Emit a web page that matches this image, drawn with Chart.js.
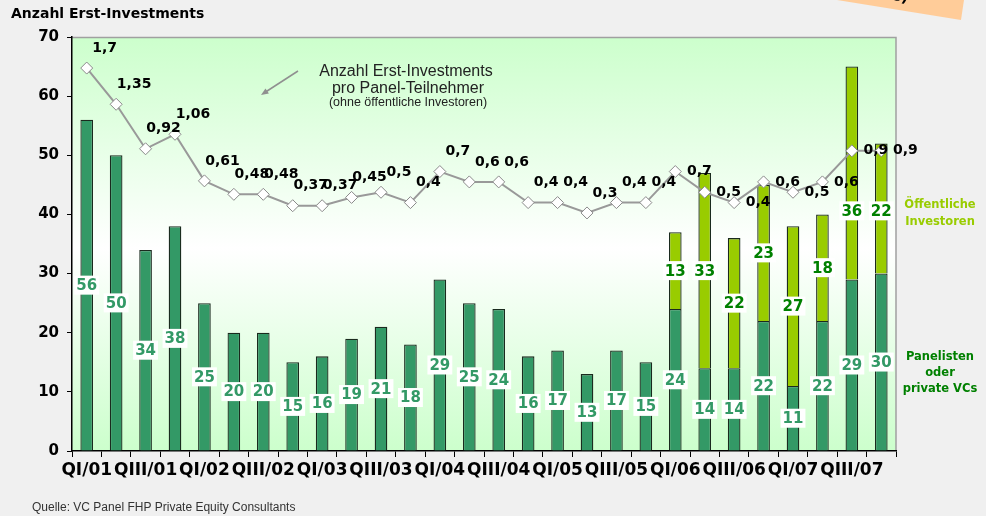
<!DOCTYPE html>
<html>
<head>
<meta charset="utf-8">
<script src="https://cdn.jsdelivr.net/npm/chart.js@4.4.1/dist/chart.umd.min.js"></script>
<style>
  html, body { margin: 0; padding: 0; background: #f0f0f0; }
  #wrap { width: 986px; height: 516px; }
</style>
</head>
<body>
<div id="wrap"><canvas id="c" width="986" height="516"></canvas></div>
<script>
// ---- data ----
const categories = [
  'QI/01','QII/01','QIII/01','QIV/01',
  'QI/02','QII/02','QIII/02','QIV/02',
  'QI/03','QII/03','QIII/03','QIV/03',
  'QI/04','QII/04','QIII/04','QIV/04',
  'QI/05','QII/05','QIII/05','QIV/05',
  'QI/06','QII/06','QIII/06','QIV/06',
  'QI/07','QII/07','QIII/07','QIV/07'
];
const panelisten = [56,50,34,38,25,20,20,15,16,19,21,18,29,25,24,16,17,13,17,15,24,14,14,22,11,22,29,30];
const oeffentliche = [null,null,null,null,null,null,null,null,null,null,null,null,null,null,null,null,null,null,null,null,13,33,22,23,27,18,36,22];
const investmentsProTeilnehmer = [1.7,1.35,0.92,1.06,0.61,0.48,0.48,0.37,0.37,0.45,0.5,0.4,0.7,0.6,0.6,0.4,0.4,0.3,0.4,0.4,0.7,0.5,0.4,0.6,0.5,0.6,0.9,0.9];
const yTickValues = [0,10,20,30,40,50,60,70];

// ---- style ----
const FONT = "'DejaVu Sans', Verdana, sans-serif";
const DARK = '#339966';
const LIGHT = '#99cc00';

const decor = {
  id: 'decor',
  beforeDraw(chart) {
    const ctx = chart.ctx, a = chart.chartArea;
    ctx.save();
    ctx.fillStyle = '#f0f0f0';
    ctx.fillRect(0, 0, chart.width, chart.height);
    // orange note corner
    ctx.fillStyle = '#ffcc99';
    ctx.beginPath();
    ctx.moveTo(837, 0); ctx.lineTo(964, 0); ctx.lineTo(961, 20); ctx.closePath();
    ctx.fill();
    ctx.save();
    ctx.translate(900, 0);
    ctx.rotate(0.16);
    ctx.fillStyle = '#000';
    ctx.font = 'bold 15px ' + FONT;
    ctx.textAlign = 'center';
    ctx.textBaseline = 'alphabetic';
    ctx.fillText('s)', 0, 1);
    ctx.restore();
    // plot background gradient
    const g = ctx.createLinearGradient(0, a.top, 0, a.bottom);
    g.addColorStop(0, '#ccffcc');
    g.addColorStop(0.51, '#ffffff');
    g.addColorStop(1, '#ccffcc');
    ctx.fillStyle = g;
    ctx.fillRect(a.left, a.top, a.right - a.left, a.bottom - a.top);
    ctx.strokeStyle = '#a0a0a0';
    ctx.lineWidth = 1.5;
    ctx.beginPath();
    ctx.moveTo(a.left, a.top + 0.5); ctx.lineTo(a.right, a.top + 0.5); ctx.lineTo(a.right, a.bottom);
    ctx.stroke();
    // title
    ctx.fillStyle = '#000';
    ctx.font = 'bold 14px ' + FONT;
    ctx.textAlign = 'left';
    ctx.textBaseline = 'middle';
    ctx.fillText('Anzahl Erst-Investments', 11, 14);
    // footer
    ctx.fillStyle = '#333';
    ctx.font = "12px 'Liberation Sans', Arial, sans-serif";
    ctx.fillText('Quelle: VC Panel FHP Private Equity Consultants', 32, 508);
    // legend texts
    ctx.textAlign = 'center';
    ctx.font = 'bold 11.5px ' + FONT;
    ctx.fillStyle = LIGHT;
    ctx.fillText('Öffentliche', 940, 205);
    ctx.fillText('Investoren', 940, 222);
    ctx.fillStyle = '#008000';
    ctx.fillText('Panelisten', 940, 357);
    ctx.fillText('oder', 940, 373);
    ctx.fillText('private VCs', 940, 389);
    ctx.restore();
  },
  afterDatasetsDraw(chart) {
    const ctx = chart.ctx;
    ctx.save();
    // annotation
    ctx.fillStyle = '#222';
    ctx.textAlign = 'center';
    ctx.textBaseline = 'middle';
    ctx.font = "16px 'Liberation Sans', Arial, sans-serif";
    ctx.fillText('Anzahl Erst-Investments', 406, 72);
    ctx.fillText('pro Panel-Teilnehmer', 408, 89);
    ctx.font = "12.5px 'Liberation Sans', Arial, sans-serif";
    ctx.fillText('(ohne öffentliche Investoren)', 408, 103);
    // arrow
    ctx.strokeStyle = '#909090';
    ctx.fillStyle = '#909090';
    ctx.lineWidth = 1.5;
    ctx.beginPath(); ctx.moveTo(298, 71); ctx.lineTo(264, 93); ctx.stroke();
    const ang = Math.atan2(95 - 71, 261 - 298);
    ctx.beginPath();
    ctx.moveTo(261, 95);
    ctx.lineTo(261 - 8 * Math.cos(ang - 0.4), 95 - 8 * Math.sin(ang - 0.4));
    ctx.lineTo(261 - 8 * Math.cos(ang + 0.4), 95 - 8 * Math.sin(ang + 0.4));
    ctx.closePath(); ctx.fill();

    const lm = chart.getDatasetMeta(2);
    // bar labels
    ctx.font = 'bold 15px ' + FONT;
    const barLabel = (dsIndex, values, color, avoidLine) => {
      const meta = chart.getDatasetMeta(dsIndex);
      meta.data.forEach((el, i) => {
        const v = values[i];
        if (v === null || v === undefined) return;
        let cy = (el.y + el.base) / 2;
        if (avoidLine) cy = Math.max(cy, lm.data[i].y + 60);
        const txt = String(v);
        const w = ctx.measureText(txt).width + 4;
        ctx.fillStyle = '#ffffff';
        ctx.fillRect(el.x - w / 2, cy - 9.5, w, 19);
        ctx.fillStyle = color;
        ctx.fillText(txt, el.x, cy + 1);
      });
    };
    barLabel(0, panelisten, DARK, false);
    barLabel(1, oeffentliche, '#008000', true);

    // line labels
    ctx.font = 'bold 14px ' + FONT;
    ctx.fillStyle = '#000';
    lm.data.forEach((el, i) => {
      const txt = investmentsProTeilnehmer[i].toLocaleString('de-DE');
      if (i < 20) ctx.fillText(txt, el.x + 18, el.y - 20);
      else ctx.fillText(txt, el.x + 24, el.y);
    });
    ctx.restore();
  }
};

new Chart(document.getElementById('c'), {
  data: {
    labels: categories,
    datasets: [
      { type: 'bar', label: 'Panelisten oder private VCs', data: panelisten, backgroundColor: DARK,
        borderColor: '#1a2a1e', borderWidth: 1.3, barPercentage: 0.43, categoryPercentage: 1.0, order: 2, stack: 's' },
      { type: 'bar', label: 'Öffentliche Investoren', data: oeffentliche, backgroundColor: LIGHT,
        borderColor: '#1a2a1e', borderWidth: 1.3, barPercentage: 0.43, categoryPercentage: 1.0, order: 2, stack: 's' },
      { type: 'line', label: 'Anzahl Erst-Investments pro Panel-Teilnehmer', data: investmentsProTeilnehmer, yAxisID: 'y2',
        borderColor: '#999999', borderWidth: 2, tension: 0, pointStyle: 'rectRot', pointRadius: 6,
        pointBackgroundColor: '#ffffff', pointBorderColor: '#8a8a8a', pointBorderWidth: 1, order: 1 }
    ]
  },
  options: {
    responsive: false,
    animation: false,
    layout: { padding: { left: 0, right: 90, top: 37, bottom: 0 } },
    plugins: { legend: { display: false }, tooltip: { enabled: false }, title: { display: false } },
    scales: {
      x: {
        stacked: true,
        offset: true,
        grid: { display: true, drawOnChartArea: false, tickLength: 6, color: '#000', offset: true, lineWidth: 1 },
        border: { color: '#000', width: 1.5 },
        ticks: {
          autoSkip: false, maxRotation: 0, minRotation: 0, padding: 3, color: '#000',
          font: { family: FONT, size: 17, weight: 'bold' },
          callback: (v, i) => (i % 2 === 0 ? categories[i] : '')
        },
        afterFit: s => { s.height = 65; }
      },
      y: {
        stacked: true, min: 0, max: 70,
        afterBuildTicks: s => { s.ticks = yTickValues.map(v => ({ value: v })); },
        grid: { drawOnChartArea: false, tickLength: 5, color: '#000' },
        border: { color: '#000', width: 1.5 },
        ticks: { padding: 8, color: '#000', font: { family: FONT, size: 15, weight: 'bold' } },
        afterFit: s => { s.width = 72; }
      },
      y2: { display: false, min: -2, max: 2 }
    }
  },
  plugins: [decor]
});
</script>
</body>
</html>
